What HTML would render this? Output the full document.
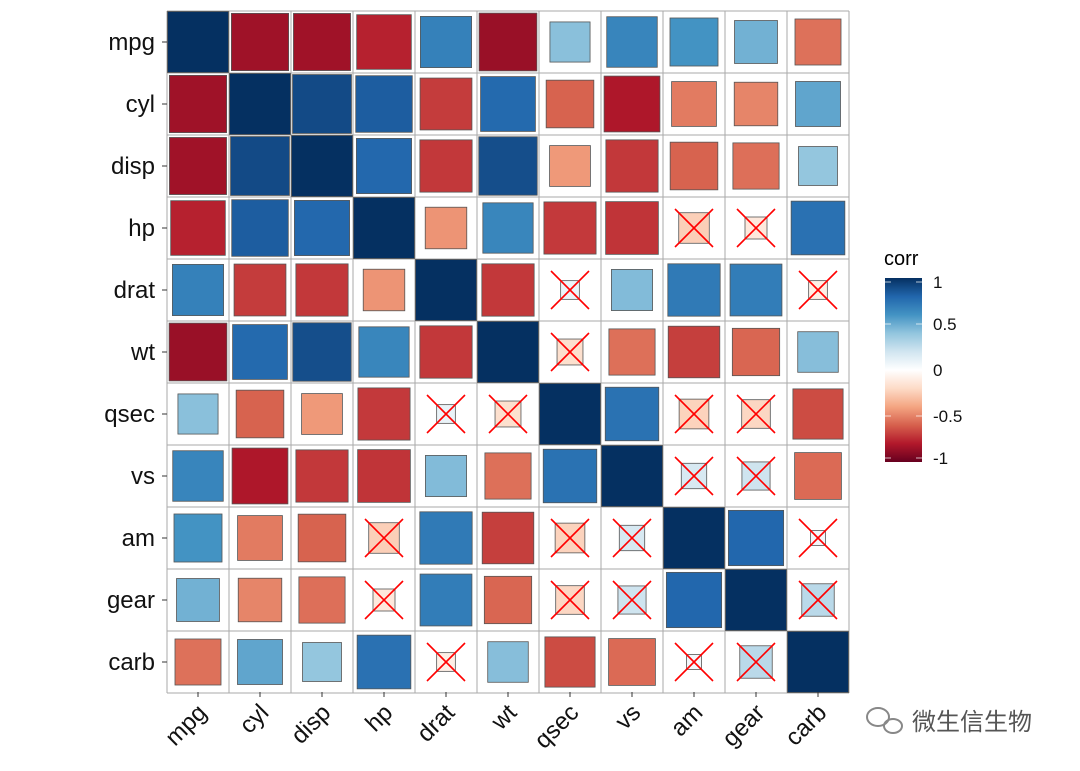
<!DOCTYPE html>
<html><head><meta charset="utf-8"><style>
body{margin:0;background:#fff;}
svg{display:block;font-family:"Liberation Sans",Arial,sans-serif;}
</style></head><body>
<svg id="chart" width="1080" height="771" xmlns="http://www.w3.org/2000/svg">
<defs>
<linearGradient id="cg" x1="0" y1="1" x2="0" y2="0">
<stop offset="0" stop-color="#67001F"/><stop offset="0.1" stop-color="#B2182B"/><stop offset="0.2" stop-color="#D6604D"/><stop offset="0.3" stop-color="#F4A582"/><stop offset="0.4" stop-color="#FDDBC7"/><stop offset="0.5" stop-color="#FFFFFF"/><stop offset="0.6" stop-color="#D1E5F0"/><stop offset="0.7" stop-color="#92C5DE"/><stop offset="0.8" stop-color="#4393C3"/><stop offset="0.9" stop-color="#2166AC"/><stop offset="1" stop-color="#053061"/>
</linearGradient>
</defs>
<g id="grid"></g>
<g id="marks"></g>
<g id="labels"></g>
<g>
<text x="884" y="265" font-size="20" fill="#000">corr</text>
<rect x="885" y="278" width="37" height="184" fill="url(#cg)"/>
<g id="legticks"></g>
</g>
<g>
<g fill="none" stroke="#888" stroke-width="2">
<ellipse cx="878" cy="717" rx="11" ry="9"/><ellipse cx="893" cy="726" rx="9" ry="7"/>
</g>
<text x="912" y="730" font-size="24" fill="#555" font-family="'Liberation Sans','Noto Sans CJK SC',sans-serif">微生信生物</text>
</g>
</svg>
<script>
const vars = ["mpg","cyl","disp","hp","drat","wt","qsec","vs","am","gear","carb"];
const upperValues = [
[-0.852,-0.848,-0.776,0.681,-0.868,0.419,0.664,0.600,0.480,-0.551],
[0.902,0.832,-0.700,0.782,-0.591,-0.811,-0.523,-0.493,0.527],
[0.791,-0.710,0.888,-0.434,-0.710,-0.591,-0.556,0.395],
[-0.449,0.659,-0.708,-0.723,-0.243,-0.126,0.750],
[-0.712,0.091,0.440,0.713,0.700,-0.091],
[-0.175,-0.555,-0.692,-0.583,0.428],
[0.745,-0.230,-0.213,-0.656],
[0.168,0.206,-0.570],
[0.794,0.058],
[0.274]
];
const insignificant = [["hp","am"],["hp","gear"],["drat","qsec"],["drat","carb"],["wt","qsec"],["qsec","am"],["qsec","gear"],["vs","am"],["vs","gear"],["am","carb"],["gear","carb"]];
const legendTicks = [1,0.5,0,-0.5,-1];

const NS="http://www.w3.org/2000/svg";
const X0=167,Y0=11,C=62,n=vars.length;
const xPos=i=>X0+i*C+C/2, yPos=i=>Y0+i*C+C/2;
function el(t,a,p){const e=document.createElementNS(NS,t);for(const k in a)e.setAttribute(k,a[k]);p.appendChild(e);return e;}
const stops=[[-1,[103,0,31]],[-0.8,[178,24,43]],[-0.6,[214,96,77]],[-0.4,[244,165,130]],[-0.2,[253,219,199]],[0,[255,255,255]],[0.2,[209,229,240]],[0.4,[146,197,222]],[0.6,[67,147,195]],[0.8,[33,102,172]],[1,[5,48,97]]];
function color(v){for(let i=0;i<stops.length-1;i++){const[a,ca]=stops[i],[b,cb]=stops[i+1];if(v<=b){const t=(v-a)/(b-a);return"rgb("+ca.map((c,j)=>Math.round(c+(cb[j]-c)*t)).join(",")+")";}}return"rgb(5,48,97)";}
const M=vars.map(()=>vars.map(()=>1));
upperValues.forEach((row,i)=>row.forEach((v,k)=>{const j=i+1+k;M[i][j]=v;M[j][i]=v;}));
const grid=document.getElementById('grid'),marks=document.getElementById('marks'),labels=document.getElementById('labels');
for(let i=0;i<=n;i++){
 el('line',{x1:X0+i*C,y1:Y0,x2:X0+i*C,y2:Y0+n*C,stroke:'#aaaaaa','stroke-width':1},grid);
 el('line',{x1:X0,y1:Y0+i*C,x2:X0+n*C,y2:Y0+i*C,stroke:'#aaaaaa','stroke-width':1},grid);
}
const insig=new Set();insignificant.forEach(([a,b])=>{const i=vars.indexOf(a),j=vars.indexOf(b);insig.add(i+","+j);insig.add(j+","+i);});
for(let r=0;r<n;r++)for(let c=0;c<n;c++){
 const v=M[r][c],s=Math.min(C-1,C*Math.sqrt(Math.abs(v)));
 const q=el('rect',{x:xPos(c)-s/2,y:yPos(r)-s/2,width:s,height:s,fill:color(v),stroke:'#555','stroke-width':0.8},marks);
 
 
 if(insig.has(r+","+c)){
  const h=19;
  el('line',{x1:xPos(c)-h,y1:yPos(r)-h,x2:xPos(c)+h,y2:yPos(r)+h,stroke:'#ff0000','stroke-width':1.6},marks);
  el('line',{x1:xPos(c)-h,y1:yPos(r)+h,x2:xPos(c)+h,y2:yPos(r)-h,stroke:'#ff0000','stroke-width':1.6},marks);
 }
}
vars.forEach((v,i)=>{
 const t=el('text',{x:155,y:yPos(i)+8,'text-anchor':'end','font-size':24,fill:'#111'},labels);t.textContent=v;
 
 
 el('line',{x1:162,y1:yPos(i),x2:167,y2:yPos(i),stroke:'#333'},labels);
 el('line',{x1:xPos(i),y1:692,x2:xPos(i),y2:697,stroke:'#333'},labels);
 const u=el('text',{x:xPos(i)+10,y:714,'text-anchor':'end','font-size':24,fill:'#111',transform:'rotate(-45 '+(xPos(i)+10)+' 714)'},labels);u.textContent=v;
 
 
});
const lt=document.getElementById('legticks');
legendTicks.forEach(v=>{
 const y=462-(v+1)/2*184+(v==1?4:v==-1?-4:0);
 el('line',{x1:885,y1:y,x2:891,y2:y,stroke:'#fff','stroke-opacity':0.7},lt);
 el('line',{x1:916,y1:y,x2:922,y2:y,stroke:'#fff','stroke-opacity':0.7},lt);
 const t=el('text',{x:933,y:y+6,'font-size':17,fill:'#111'},lt);t.textContent=v;
 
 
});
</script>
</body></html>
